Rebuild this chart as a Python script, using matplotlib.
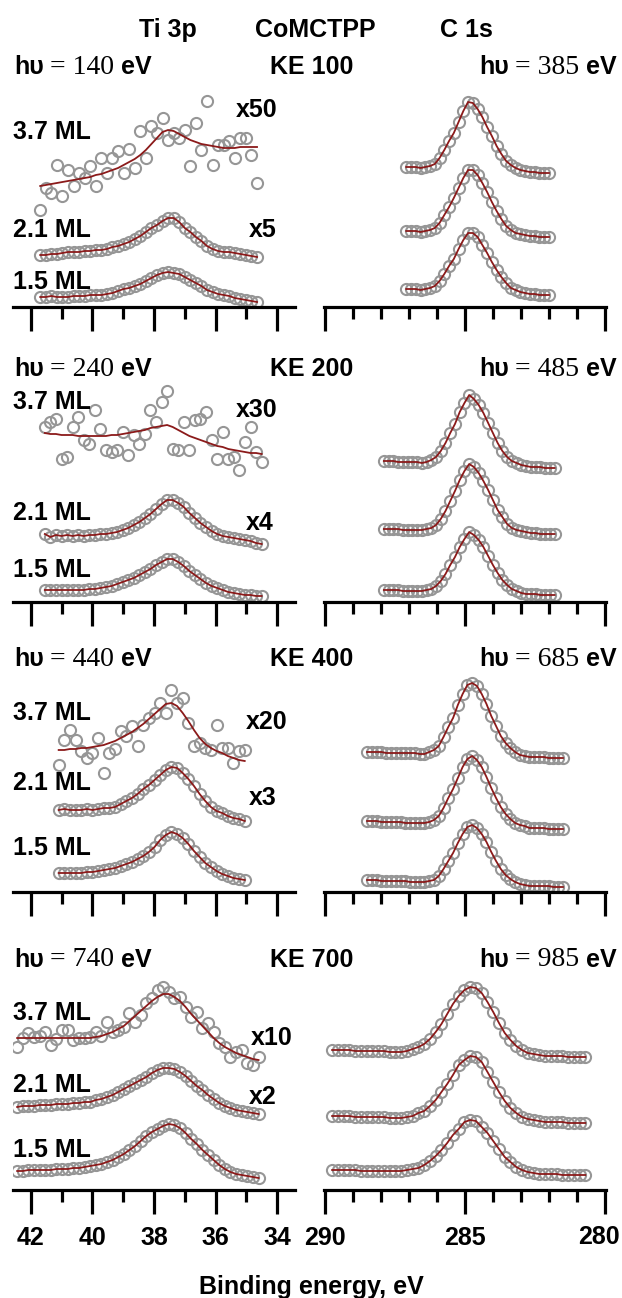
"""
Ti 3p / C 1s photoemission series for CoMCTPP films (1.5, 2.1, 3.7 ML)
at four kinetic energies (KE 100, 200, 400, 700 eV).
Intensities are in arbitrary units (stacked offsets), read off the figure.
"""
import numpy as np
import matplotlib.pyplot as plt
from matplotlib.font_manager import FontProperties

# ── Ti 3p energy grids (eV) ───────────────────────────────────────────────
ti_e = [np.linspace(41.70, 34.65, 40),
        np.linspace(41.55, 34.50, 40),
        np.linspace(41.10, 35.05, 34),
        np.linspace(42.45, 34.60, 44)]

# ── Ti 3p intensities (a.u., offset stacked) ─────────────────────────────
ti1_15 = [10, 10, 11, 10, 10, 10, 11, 11, 11, 12, 12, 12, 13, 14, 16, 18, 19, 21, 23, 26,
          29, 32, 34, 35, 34, 33, 30, 27, 24, 21, 17, 15, 13, 12, 11, 9, 8, 7, 6, 5]
ti1_21 = [52, 52, 53, 53, 54, 55, 55, 55, 56, 56, 57, 57, 58, 60, 61, 63, 65, 68, 71, 75,
          79, 82, 86, 89, 89, 85, 79, 75, 70, 66, 61, 58, 56, 55, 55, 54, 53, 52, 51, 50]
ti1_37 = [97, 119, 114, 142, 111, 137, 121, 134, 129, 141, 121, 149, 134, 149, 156, 134, 158, 139, 176, 149,
          181, 174, 189, 167, 174, 169, 177, 141, 184, 157, 206, 142, 162, 162, 166, 149, 169, 169, 152, 124]
ti1_37fit = [121, 122, 123, 124, 125, 126, 127, 128, 129, 130, 132, 133, 135, 137, 139, 142, 145, 148, 152, 157,
             163, 169, 175, 177, 176, 173, 170, 167, 165, 163, 162, 161, 160, 159, 159, 159, 160, 160, 160, 160]

ti2_15 = [12, 12, 12, 12, 12, 12, 12, 12, 13, 13, 14, 15, 16, 18, 20, 22, 24, 27, 30, 33,
          37, 40, 43, 43, 40, 36, 31, 27, 23, 19, 16, 14, 12, 10, 9, 8, 7, 7, 6, 6]
ti2_21 = [68, 65, 67, 66, 67, 66, 67, 66, 67, 67, 68, 68, 69, 70, 72, 74, 77, 80, 84, 88,
          93, 98, 102, 102, 99, 95, 89, 84, 79, 75, 71, 68, 66, 65, 64, 63, 62, 61, 59, 58]
ti2_37 = [175, 180, 183, 143, 145, 175, 185, 162, 158, 192, 173, 152, 150, 152, 170, 147, 167, 158, 168, 192,
          180, 200, 211, 153, 152, 180, 152, 182, 183, 190, 162, 143, 170, 143, 145, 132, 160, 175, 150, 140]
ti2_37fit = [169, 168, 168, 167, 167, 167, 166, 166, 166, 166, 166, 166, 167, 167, 168, 169, 170, 171, 172, 174,
             175, 176, 177, 175, 172, 169, 166, 164, 162, 160, 158, 156, 155, 153, 152, 151, 150, 149, 149, 148]

ti3_15 = [19, 19, 19, 19, 19, 20, 20, 21, 22, 23, 24, 26, 28, 30, 33, 36, 40, 45, 52, 57,
          60, 58, 54, 48, 41, 35, 29, 25, 21, 18, 16, 14, 13, 12]
ti3_21 = [82, 83, 82, 82, 82, 83, 82, 83, 84, 84, 85, 88, 91, 94, 98, 103, 107, 112, 117, 122,
          125, 124, 119, 113, 106, 98, 91, 85, 81, 79, 76, 74, 73, 71]
ti3_37 = [127, 152, 162, 152, 141, 134, 139, 154, 119, 139, 143, 161, 156, 166, 146, 167, 174, 179, 189, 179,
          202, 189, 194, 169, 146, 149, 144, 142, 167, 144, 144, 129, 141, 142]
ti3_37fit = [142, 142, 143, 143, 144, 144, 145, 146, 147, 149, 151, 154, 157, 160, 164, 168, 173, 178, 183, 188,
             189, 186, 179, 171, 162, 154, 148, 144, 141, 139, 136, 134, 132, 131]

ti4_15 = [19, 19, 20, 20, 20, 20, 20, 21, 21, 21, 22, 22, 23, 24, 25, 26, 28, 30, 33, 36,
          40, 44, 49, 54, 58, 61, 64, 66, 65, 62, 57, 51, 46, 40, 35, 30, 25, 21, 18, 16,
          15, 14, 13, 12]
ti4_21 = [83, 84, 84, 84, 85, 85, 85, 86, 86, 86, 87, 87, 88, 88, 90, 91, 93, 95, 98, 101,
          104, 107, 110, 113, 117, 120, 122, 122, 121, 118, 114, 109, 104, 100, 95, 91, 87, 84, 82, 80,
          79, 78, 77, 76]
ti4_37 = [143, 152, 157, 153, 154, 158, 145, 151, 160, 160, 150, 152, 152, 153, 158, 154, 168, 158, 160, 163,
          177, 168, 175, 187, 192, 200, 203, 198, 192, 193, 183, 173, 178, 162, 167, 158, 147, 143, 133, 138,
          140, 127, 125, 133]
ti4_37fit = [152, 152, 152, 152, 152, 152, 152, 152, 152, 152, 152, 152, 152, 152, 153, 154, 156, 158, 161, 164,
             169, 174, 179, 184, 189, 193, 196, 196, 193, 189, 183, 176, 170, 164, 158, 152, 147, 143, 140, 137,
             135, 133, 131, 130]

# ── C 1s energy grids (eV) ────────────────────────────────────────────────
c_e = [np.linspace(287.1, 282.0, 31),
       np.linspace(287.9, 281.8, 37),
       np.linspace(288.5, 281.5, 42),
       np.linspace(289.75, 280.7, 45)]

# ── C 1s intensities (a.u.): top = 3.7 ML, mid = 2.1 ML, bot = 1.5 ML ────
c1_top = [140, 140, 140, 139, 140, 141, 143, 149, 157, 166, 174, 185, 196, 205, 204, 198, 190, 180, 171, 161,
          153, 146, 142, 139, 137, 136, 135, 135, 134, 134, 134]
c1_mid = [76, 76, 76, 75, 76, 77, 79, 84, 92, 100, 109, 119, 129, 137, 137, 132, 124, 115, 105, 96,
          88, 81, 77, 74, 73, 72, 71, 71, 70, 70, 70]
c1_bot = [18, 18, 18, 17, 18, 19, 21, 26, 33, 41, 48, 58, 67, 74, 74, 70, 62, 54, 45, 37,
          30, 24, 19, 17, 15, 14, 13, 13, 12, 12, 12]

c2_top = [141, 141, 141, 140, 140, 140, 140, 140, 139, 140, 142, 145, 151, 159, 169, 178, 190, 199, 207, 203,
          197, 189, 179, 169, 159, 151, 145, 141, 139, 137, 136, 135, 135, 135, 134, 134, 134]
c2_mid = [73, 73, 73, 73, 72, 72, 72, 72, 72, 73, 74, 77, 83, 91, 101, 111, 122, 131, 138, 135,
          129, 121, 112, 102, 92, 85, 78, 74, 72, 71, 70, 69, 69, 68, 68, 68, 68]
c2_bot = [12, 12, 12, 12, 11, 11, 11, 11, 11, 12, 13, 16, 21, 28, 37, 45, 55, 63, 70, 67,
          62, 55, 46, 37, 29, 22, 17, 13, 11, 9, 8, 8, 8, 7, 7, 7, 7]

c3_top = [140, 140, 140, 140, 139, 139, 139, 139, 139, 139, 139, 138, 138, 140, 142, 146, 155, 165, 174, 187,
          198, 207, 209, 206, 198, 188, 176, 166, 156, 149, 144, 140, 137, 136, 135, 135, 135, 135, 134, 134,
          134, 134]
c3_mid = [71, 71, 71, 70, 70, 70, 70, 70, 69, 69, 69, 69, 69, 70, 72, 76, 84, 94, 103, 114,
          125, 133, 136, 132, 125, 115, 104, 94, 85, 78, 73, 69, 67, 66, 64, 64, 64, 64, 63, 63,
          63, 63]
c3_bot = [12, 12, 12, 11, 11, 11, 11, 11, 11, 10, 10, 10, 10, 11, 12, 16, 23, 31, 39, 49,
          58, 65, 67, 64, 58, 50, 40, 31, 23, 17, 13, 10, 8, 7, 6, 6, 6, 6, 6, 5,
          5, 5]

c4_top = [140, 140, 140, 140, 139, 139, 139, 139, 139, 139, 138, 138, 138, 139, 141, 143, 146, 151, 158, 166,
          176, 186, 194, 200, 203, 202, 197, 188, 178, 167, 157, 150, 144, 140, 137, 136, 135, 134, 134, 134,
          134, 133, 133, 133, 133]
c4_mid = [74, 74, 74, 74, 73, 73, 73, 73, 73, 73, 72, 72, 72, 73, 74, 77, 79, 84, 90, 98,
          106, 115, 125, 130, 134, 133, 128, 118, 108, 98, 89, 82, 77, 73, 71, 70, 69, 68, 68, 68,
          68, 67, 67, 67, 67]
c4_bot = [20, 20, 20, 20, 20, 19, 19, 19, 19, 19, 19, 19, 19, 20, 21, 22, 25, 29, 34, 40,
          47, 55, 61, 68, 70, 69, 63, 57, 49, 41, 33, 28, 23, 20, 18, 17, 16, 16, 16, 16,
          15, 15, 15, 15, 15]

# ── labels ────────────────────────────────────────────────────────────────
hv_ti = ['140', '240', '440', '740']
hv_c = ['385', '485', '685', '985']
ke_lab = ['KE 100', 'KE 200', 'KE 400', 'KE 700']
ml_lab = ['1.5 ML', '2.1 ML', '3.7 ML']
mult_21 = ['x5', 'x4', 'x3', 'x2']
mult_37 = ['x50', 'x30', 'x20', 'x10']
ti_ticks = [42, 40, 38, 36, 34]
c_ticks = [290, 285, 280]

ti_rows = [(ti1_15, ti1_21, ti1_37, ti1_37fit),
           (ti2_15, ti2_21, ti2_37, ti2_37fit),
           (ti3_15, ti3_21, ti3_37, ti3_37fit),
           (ti4_15, ti4_21, ti4_37, ti4_37fit)]
c_rows = [(c1_bot, c1_mid, c1_top), (c2_bot, c2_mid, c2_top),
          (c3_bot, c3_mid, c3_top), (c4_bot, c4_mid, c4_top)]

# ── layout (pixels) ───────────────────────────────────────────────────────
W, H = 622, 1298
SPINE_Y = [307, 602, 892, 1190]
HEAD_Y = [67, 369, 659, 960]
AX_H = 250
ML_Y = [(25, 77, 175), (32, 89, 200), (44, 109, 179), (40, 105, 177)]
MULT21_POS = [(263, 77), (260, 79), (263, 94), (263, 93)]
MULT37_POS = [(257, 197), (257, 192), (267, 170), (272, 152)]

PT_EDGE = '#969696'
FIT_C = '#8b1a1a'
BOLD = FontProperties(family='Liberation Sans', weight='bold', size=18)
SERIF = FontProperties(family='Liberation Serif', size=20)

fig = plt.figure(figsize=(W / 100, H / 100), dpi=100)


def px_rect(x0, x1, ybot):
    return [x0 / W, 1 - ybot / H, (x1 - x0) / W, AX_H / H]


def ftxt(x, y, s, **kw):
    return fig.text(x / W, 1 - y / H, s, fontproperties=BOLD, va='center', **kw)


def style_axis(ax, major, minor, labels):
    for side in ('left', 'right', 'top'):
        ax.spines[side].set_visible(False)
    ax.spines['bottom'].set_linewidth(2.3)
    ax.set_yticks([])
    ax.set_xticks(major)
    ax.set_xticks(minor, minor=True)
    ax.tick_params(axis='x', which='major', direction='out', length=17, width=2.3,
                   pad=9, labelbottom=labels is not None)
    ax.tick_params(axis='x', which='minor', direction='out', length=8.5, width=2.3)
    if labels is not None:
        ax.set_xticklabels(labels, fontproperties=BOLD)
    ax.set_ylim(0, AX_H)
    ax.patch.set_visible(False)


def spectrum(ax, e, y, fit=None):
    ax.plot(e, y, 'o', ms=8, mfc='none', mec=PT_EDGE, mew=1.5, zorder=2)
    ax.plot(e, y if fit is None else fit, color=FIT_C, lw=1.3, zorder=3)


for r in range(4):
    last = r == 3
    axL = fig.add_axes(px_rect(13, 295, SPINE_Y[r]))
    axR = fig.add_axes(px_rect(324, 606, SPINE_Y[r]))
    axL.set_xlim(42.585, 33.415)
    axR.set_xlim(290.04, 279.96)
    style_axis(axL, ti_ticks, [41, 39, 37, 35],
               [str(t) for t in ti_ticks] if last else None)
    # the 280 label sits against the figure edge; drawn separately below
    style_axis(axR, c_ticks, [289, 288, 287, 286, 284, 283, 282, 281],
               [str(c_ticks[0]), str(c_ticks[1]), ''] if last else None)

    s15, s21, s37, s37fit = ti_rows[r]
    spectrum(axL, ti_e[r], s15)
    spectrum(axL, ti_e[r], s21)
    spectrum(axL, ti_e[r], s37, s37fit)
    for ys in c_rows[r]:
        spectrum(axR, c_e[r], ys)

    # ML labels and scale factors
    for lab, hy in zip(ml_lab, ML_Y[r]):
        ftxt(13, SPINE_Y[r] - hy, lab, ha='left')
    mx, my = MULT21_POS[r]
    ftxt(mx, SPINE_Y[r] - my, mult_21[r], ha='center')
    mx, my = MULT37_POS[r]
    ftxt(mx, SPINE_Y[r] - my, mult_37[r], ha='center')

    ftxt(312, HEAD_Y[r], ke_lab[r], ha='center')

ftxt(620, 1237, str(c_ticks[2]), ha='right')

# ── "hυ = xxx eV" headers, mixed fonts ────────────────────────────────────
renderer = fig.canvas.get_renderer()


def hv_label(x, y, value, align='left'):
    parts = [('hυ', BOLD, 6), ('= ' + value, SERIF, 7), ('eV', BOLD, 0)]
    texts, widths = [], []
    for s, fp, gap in parts:
        t = fig.text(0, 1 - y / H, s, fontproperties=fp, va='center', ha='left')
        texts.append(t)
        widths.append(t.get_window_extent(renderer).width + gap)
    x0 = x if align == 'left' else x - sum(widths)
    for t, w_ in zip(texts, widths):
        t.set_x(x0 / W)
        x0 += w_


for r in range(4):
    hv_label(14, HEAD_Y[r], hv_ti[r], 'left')
    hv_label(617, HEAD_Y[r], hv_c[r], 'right')

ftxt(168, 30, 'Ti 3p', ha='center')
ftxt(315, 30, 'CoMCTPP', ha='center')
ftxt(466, 30, 'C 1s', ha='center')
fig.text(311 / W, 1 - 1287 / H, 'Binding energy, eV', fontproperties=BOLD,
         ha='center', va='center')

fig.savefig('out.png', dpi=100)
